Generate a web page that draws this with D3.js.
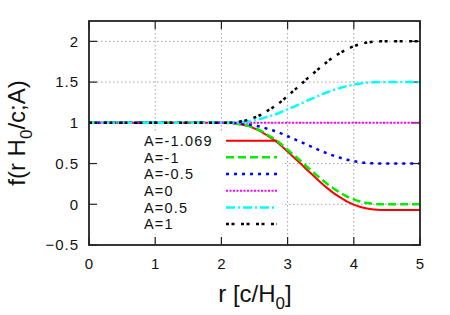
<!DOCTYPE html>
<html><head><meta charset="utf-8">
<script src="https://cdn.jsdelivr.net/npm/d3@7"></script>
<style>body{margin:0;background:#fff}svg{display:block;font-family:"Liberation Sans",Arial,sans-serif}</style>
</head><body><svg id="c" width="450" height="315"></svg>
<script>
const rValues = [0, 1, 2, 2.2, 2.3, 2.4, 2.5, 2.6, 2.7, 2.8, 2.9, 3.0, 3.1, 3.2, 3.3, 3.4, 3.5, 3.6, 3.7, 3.8, 3.9, 4.0, 4.1, 4.2, 4.3, 4.4, 4.6, 5.0];
const fAm1069 = [1, 1, 1, 0.995, 0.979, 0.963, 0.931, 0.893, 0.840, 0.786, 0.722, 0.647, 0.572, 0.498, 0.417, 0.343, 0.268, 0.198, 0.134, 0.081, 0.033, -0.005, -0.034, -0.053, -0.064, -0.069, -0.069, -0.069];
const fAm1 = [1, 1, 1, 0.995, 0.98, 0.965, 0.935, 0.90, 0.85, 0.80, 0.74, 0.67, 0.60, 0.53, 0.455, 0.385, 0.315, 0.25, 0.19, 0.14, 0.095, 0.06, 0.033, 0.015, 0.005, 0, 0, 0];
const fAm05 = [1, 1, 1, 0.9975, 0.99, 0.9825, 0.9675, 0.95, 0.925, 0.90, 0.87, 0.835, 0.80, 0.765, 0.7275, 0.6925, 0.6575, 0.625, 0.595, 0.57, 0.5475, 0.53, 0.5165, 0.5075, 0.5025, 0.5, 0.5, 0.5];
const fA0 = [1, 1, 1, 1, 1, 1, 1, 1, 1, 1, 1, 1, 1, 1, 1, 1, 1, 1, 1, 1, 1, 1, 1, 1, 1, 1, 1, 1];
const fA05 = [1, 1, 1, 1.0025, 1.01, 1.0175, 1.0325, 1.05, 1.075, 1.10, 1.13, 1.165, 1.20, 1.235, 1.2725, 1.3075, 1.3425, 1.375, 1.405, 1.43, 1.4525, 1.47, 1.4835, 1.4925, 1.4975, 1.5, 1.5, 1.5];
const fA1 = [1, 1, 1, 1.005, 1.02, 1.035, 1.065, 1.10, 1.15, 1.20, 1.26, 1.33, 1.40, 1.47, 1.545, 1.615, 1.685, 1.75, 1.81, 1.86, 1.905, 1.94, 1.967, 1.985, 1.995, 2, 2, 2];
const seriesLabels = ["A=-1.069", "A=-1", "A=-0.5", "A=0", "A=0.5", "A=1"];
const xTicks = [0, 1, 2, 3, 4, 5];
const yTicks = [-0.5, 0, 0.5, 1, 1.5, 2];

const series = [
  {label: seriesLabels[0], values: fAm1069, color: "#ff0000", dash: null, w: 2},
  {label: seriesLabels[1], values: fAm1, color: "#00ee00", dash: "8,4", w: 2.5},
  {label: seriesLabels[2], values: fAm05, color: "#0000ff", dash: "3,5", w: 2.5},
  {label: seriesLabels[3], values: fA0, color: "#ff00ff", dash: "2,1.5", w: 2},
  {label: seriesLabels[4], values: fA05, color: "#00ffff", dash: "9,3,2,3", w: 2.5},
  {label: seriesLabels[5], values: fA1, color: "#000000", dash: "3,2.5,3,6.5", w: 2.5}
];

const L = 89, R = 420, T = 21, B = 245;
const svg = d3.select("#c");
const x = d3.scaleLinear().domain([0, 5]).range([L, R]);
const y = d3.scaleLinear().domain([-0.5, 2.25]).range([B, T]);

// grid
const grid = svg.append("g").attr("stroke", "#a0a0a0").attr("stroke-width", 1).attr("stroke-dasharray", "1.5,2.5");
xTicks.filter(t => t > 0 && t < 5).forEach(t => grid.append("line").attr("x1", x(t)).attr("x2", x(t)).attr("y1", T).attr("y2", B));
yTicks.filter(t => t > -0.5).forEach(t => grid.append("line").attr("x1", L).attr("x2", R).attr("y1", y(t)).attr("y2", y(t)));

// legend background (opaque key)
svg.append("rect").attr("x", L + 1).attr("y", 131).attr("width", 192).attr("height", 103).attr("fill", "#fff");

// axes ticks (inward, mirrored)
const tk = 8;
const axG = svg.append("g").attr("stroke", "#222").attr("stroke-width", 1.2);
xTicks.forEach(t => {
  axG.append("line").attr("x1", x(t)).attr("x2", x(t)).attr("y1", B).attr("y2", B - tk);
  axG.append("line").attr("x1", x(t)).attr("x2", x(t)).attr("y1", T).attr("y2", T + tk);
});
yTicks.forEach(t => {
  axG.append("line").attr("x1", L).attr("x2", L + tk).attr("y1", y(t)).attr("y2", y(t));
  axG.append("line").attr("x1", R).attr("x2", R - tk).attr("y1", y(t)).attr("y2", y(t));
});

// curves
const line = d3.line().x((d, i) => x(rValues[i])).y(d => y(d)).curve(d3.curveMonotoneX);
series.forEach(s => {
  svg.append("path").attr("d", line(s.values)).attr("fill", "none")
    .attr("stroke", s.color).attr("stroke-width", s.w)
    .attr("stroke-dasharray", s.dash);
});

// frame
svg.append("rect").attr("x", L).attr("y", T).attr("width", R - L).attr("height", B - T)
  .attr("fill", "none").attr("stroke", "#222").attr("stroke-width", 1.8);

// tick labels
const fs = 15, ls = 1;
xTicks.forEach(t => svg.append("text").attr("x", x(t) + ls / 2).attr("y", 268.5).attr("text-anchor", "middle")
  .attr("font-size", fs).attr("letter-spacing", ls).attr("fill", "#111").text(d3.format("~g")(t)));
yTicks.forEach(t => svg.append("text").attr("x", 78 + ls).attr("y", y(t)).attr("dy", "0.36em").attr("text-anchor", "end")
  .attr("font-size", fs).attr("letter-spacing", ls).attr("fill", "#111").text(d3.format("~g")(t)));

// legend
series.forEach((s, i) => {
  const yy = 140.7 + i * 16.67;
  svg.append("text").attr("x", 144).attr("y", yy).attr("dy", "0.36em").attr("font-size", 14.5)
    .attr("letter-spacing", 1.2).attr("fill", "#111").text(s.label);
  svg.append("line").attr("x1", 226).attr("x2", 277).attr("y1", yy).attr("y2", yy)
    .attr("stroke", s.color).attr("stroke-width", s.w).attr("stroke-dasharray", s.dash);
});

// axis labels
const xl = svg.append("text").attr("x", 255).attr("y", 302).attr("text-anchor", "middle").attr("font-size", 24).attr("fill", "#111");
xl.append("tspan").text("r [c/H");
xl.append("tspan").attr("font-size", 17).attr("dy", 7).text("0");
xl.append("tspan").attr("dy", -7).text("]");

const yl = svg.append("text").attr("transform", "translate(25,133) rotate(-90)").attr("text-anchor", "middle").attr("font-size", 24).attr("fill", "#111");
yl.append("tspan").text("f(r H");
yl.append("tspan").attr("font-size", 17).attr("dy", 7).text("0");
yl.append("tspan").attr("dy", -7).text("/c;A)");
</script></body></html>
